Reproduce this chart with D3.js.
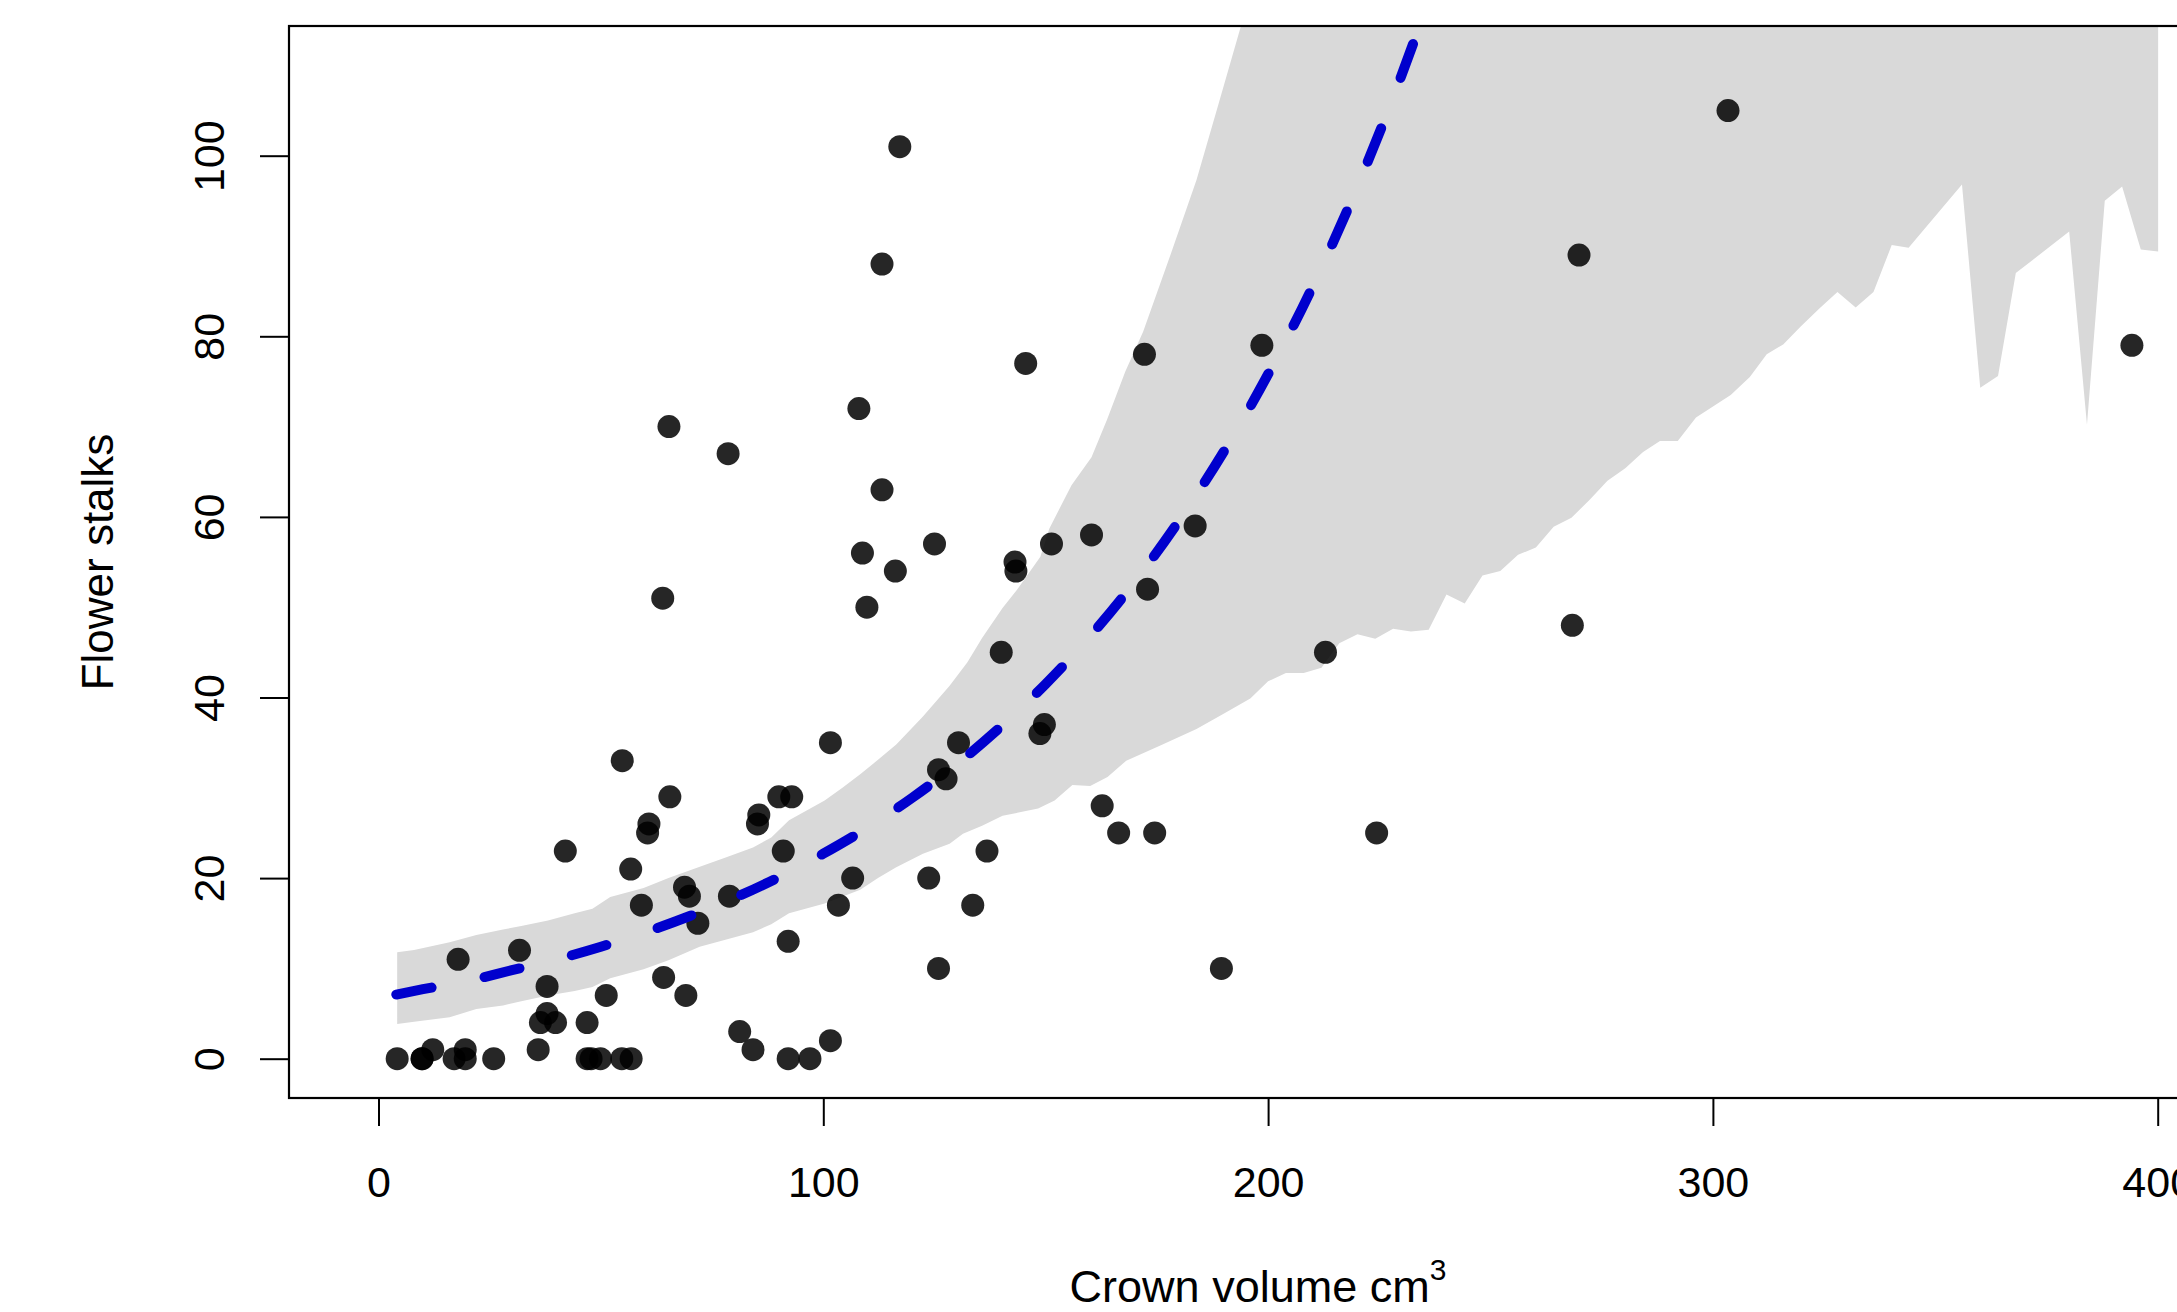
<!DOCTYPE html>
<html>
<head>
<meta charset="utf-8">
<script src="https://cdn.jsdelivr.net/npm/d3@7"></script>
<style>
  html, body { margin: 0; padding: 0; background: #ffffff; }
  svg { display: block; }
  text { font-family: "Liberation Sans", Arial, Helvetica, sans-serif; fill: #000; }
</style>
</head>
<body>
<svg id="chart" width="2177" height="1312"></svg>
<script>
// ---------------- data ----------------
const crownVolume = [4.2, 9.8, 9.8, 12.2, 17.0, 17.9, 19.5, 19.5, 25.9, 31.7, 35.9, 36.4, 37.9, 37.9, 39.8,
  42.0, 46.9, 46.9, 47.8, 49.9, 51.2, 54.7, 54.8, 56.7, 56.8, 59.1, 60.5, 60.8, 63.9, 64.1, 65.3, 65.5,
  68.8, 69.1, 69.9, 71.8, 78.6, 78.9, 81.2, 84.2, 85.2, 85.5, 90.0, 91.0, 92.1, 92.1, 92.9, 97.0, 101.6,
  101.6, 103.4, 106.6, 108.0, 108.8, 109.8, 113.2, 113.2, 116.2, 117.2, 123.7, 125.0, 125.9, 125.9, 127.6,
  130.4, 133.6, 136.8, 140.0, 143.1, 143.3, 145.5, 148.7, 149.7, 151.3, 160.3, 162.7, 166.4, 172.2, 172.9,
  174.5, 183.6, 189.5, 198.6, 212.9, 224.4, 268.4, 269.9, 303.4, 394.2];
const flowerStalks = [0, 0, 0, 1, 0, 11, 1, 0, 0, 12, 1, 4, 5, 8, 4,
  23, 0, 4, 0, 0, 7, 0, 33, 21, 0, 17, 25, 26, 51, 9, 70, 29,
  19, 7, 18, 15, 67, 18, 3, 1, 26, 27, 29, 23, 13, 0, 29, 0, 35,
  2, 17, 20, 72, 56, 50, 88, 63, 54, 101, 20, 57, 32, 10, 31,
  35, 17, 23, 45, 55, 54, 77, 36, 37, 57, 58, 28, 25, 78, 52,
  25, 59, 10, 79, 45, 25, 48, 89, 105, 79];

// fitted curve (dashed blue), read at regular x positions
const fitX = [4, 10, 20, 30, 40, 50, 60, 70, 80, 90, 100, 110, 120, 130, 140, 150, 160, 170, 180, 190, 200, 210, 220, 230, 240];
const fitY = [7.1, 7.7, 8.6, 9.8, 11.0, 12.4, 14.0, 15.8, 17.8, 20.1, 22.7, 25.6, 28.9, 32.6, 36.8, 41.5, 46.8, 52.8, 59.6, 67.2, 75.8, 85.5, 96.5, 108.9, 122.8];

// grey band: upper bound
const bandUpperX = [4.2, 8.0, 16.0, 22.0, 28.0, 32.1, 38.1, 44.1, 48.1, 52.1, 59.6, 65.2, 70.2, 78.2, 84.2, 88.3,
  92.3, 100.3, 104.3, 108.3, 112.3, 116.4, 122.4, 128.4, 132.4, 135.7, 140.3, 143.8, 148.8, 150.8, 155.8, 160.3,
  163.8, 167.9, 171.9, 177.9, 183.9, 188.9, 193.8, 198.0, 400.1];
const bandUpperY = [11.8, 12.05, 12.9, 13.7, 14.3, 14.7, 15.3, 16.1, 16.6, 17.9, 18.9, 20.0, 20.9, 22.3, 23.4, 24.5,
  26.4, 28.6, 30.0, 31.5, 33.1, 34.8, 37.9, 41.3, 43.9, 46.6, 49.9, 52.1, 55.6, 58.7, 63.5, 66.6,
  70.8, 76.1, 80.5, 88.8, 97.3, 105.8, 114.2, 125, 125];
// grey band: lower bound
const bandLowerX = [4.2, 8.0, 16.0, 22.0, 28.0, 32.1, 38.1, 44.1, 48.1, 52.1, 59.6, 65.2, 72.2, 78.2, 84.2, 88.3,
  92.3, 100.3, 108.3, 112.3, 116.4, 122.4, 128.4, 131.4, 135.7, 140.3, 148.3, 152.0, 156.0, 160.0, 163.9, 168.1,
  175.9, 183.9, 190.0, 196.0, 200.0, 204.0, 208.0, 212.0, 216.0, 220.1, 224.1, 228.1, 232.1, 236.1, 240.1, 244.2,
  248.2, 252.2, 256.2, 260.2, 264.2, 268.2, 272.3, 276.3, 280.3, 284.3, 288.1, 292.1, 296.2, 304.0, 308.3, 312.1,
  315.8, 319.8, 324.0, 328.0, 332.1, 336.1, 340.2, 344.0, 356.0, 360.1, 364.1, 368.1, 380.1, 384.1, 388.1, 392.0,
  396.2, 400.1];
const bandLowerY = [3.85, 4.1, 4.6, 5.5, 5.9, 6.35, 7.0, 7.5, 7.95, 8.9, 9.9, 10.9, 12.4, 13.2, 14.0, 14.9,
  16.1, 17.2, 18.7, 20.0, 21.2, 22.7, 23.8, 24.9, 25.8, 26.9, 27.7, 28.6, 30.3, 30.2, 31.2, 33.0,
  34.7, 36.5, 38.2, 39.9, 41.8, 42.7, 42.7, 43.3, 46.0, 47.0, 46.5, 47.6, 47.3, 47.5, 51.4, 50.4,
  53.5, 54.0, 55.8, 56.6, 58.9, 59.9, 61.9, 64.0, 65.4, 67.2, 68.4, 68.4, 71.0, 73.5, 75.5, 78.0,
  79.1, 81.1, 83.1, 84.9, 83.2, 84.9, 90.1, 89.8, 96.8, 74.3, 75.6, 87.0, 91.6, 70.2, 95.0, 96.6,
  89.6, 89.4];

const xTicks = [0, 100, 200, 300, 400];
const yTicks = [0, 20, 40, 60, 80, 100];

// ---------------- layout ----------------
const svg = d3.select("#chart");
const plot = { left: 289, top: 26, right: 2228, bottom: 1098 };

const x = d3.scaleLinear().domain([0, 400]).range([378.5, 2157.7]);
const y = d3.scaleLinear().domain([0, 100]).range([1058.7, 155.7]);

svg.append("defs").append("clipPath").attr("id", "clip")
  .append("rect")
  .attr("x", plot.left).attr("y", plot.top)
  .attr("width", plot.right - plot.left).attr("height", plot.bottom - plot.top);

const g = svg.append("g").attr("clip-path", "url(#clip)");

// band polygon
const upperPts = bandUpperX.map((d, i) => [x(d), y(bandUpperY[i])]);
const lowerPts = bandLowerX.map((d, i) => [x(d), y(bandLowerY[i])]).reverse();
g.append("path")
  .attr("d", d3.line()(upperPts.concat(lowerPts)) + "Z")
  .attr("fill", "#d9d9d9")
  .attr("stroke", "none");

// points
g.selectAll("circle.pt")
  .data(crownVolume.map((d, i) => [d, flowerStalks[i]]))
  .join("circle")
  .attr("class", "pt")
  .attr("cx", d => x(d[0]))
  .attr("cy", d => y(d[1]))
  .attr("r", 11.5)
  .attr("fill", "rgba(0,0,0,0.85)");

// fitted dashed line
g.append("path")
  .datum(fitX.map((d, i) => [d, fitY[i]]))
  .attr("d", d3.line().x(d => x(d[0])).y(d => y(d[1])).curve(d3.curveMonotoneX))
  .attr("fill", "none")
  .attr("stroke", "#0000cd")
  .attr("stroke-width", 10)
  .attr("stroke-linecap", "round")
  .attr("stroke-dasharray", "36,54");

// frame
svg.append("rect")
  .attr("x", plot.left).attr("y", plot.top)
  .attr("width", plot.right - plot.left).attr("height", plot.bottom - plot.top)
  .attr("fill", "none").attr("stroke", "#000").attr("stroke-width", 2.2);

// x axis
const xAxis = d3.axisBottom(x).tickValues(xTicks).tickSize(28).tickPadding(40).tickFormat(d3.format("d"));
const gx = svg.append("g").attr("transform", `translate(0,${plot.bottom})`).call(xAxis);
gx.select(".domain").attr("stroke", "#000").attr("stroke-width", 2).attr("d", `M${x(0)},0H${x(400)}`);
gx.selectAll(".tick line").attr("stroke", "#000").attr("stroke-width", 2);
gx.selectAll(".tick text").attr("font-size", 43).attr("dy", 0).attr("y", 99)
  .style("font-family", '"Liberation Sans", Arial, sans-serif');

// y axis
const yAxis = d3.axisLeft(y).tickValues(yTicks).tickSize(29).tickFormat(d3.format("d"));
const gy = svg.append("g").attr("transform", `translate(${plot.left},0)`).call(yAxis);
gy.select(".domain").attr("stroke", "#000").attr("stroke-width", 2).attr("d", `M0,${y(0)}V${y(100)}`);
gy.selectAll(".tick line").attr("stroke", "#000").attr("stroke-width", 2);
gy.selectAll(".tick text")
  .attr("font-size", 43)
  .attr("x", null).attr("dy", null)
  .attr("text-anchor", "middle")
  .attr("transform", "translate(-65,0) rotate(-90)")
  .style("font-family", '"Liberation Sans", Arial, sans-serif');

// axis titles
const xt = svg.append("text")
  .attr("x", 1258).attr("y", 1302)
  .attr("text-anchor", "middle")
  .attr("font-size", 45);
xt.append("tspan").text("Crown volume cm");
xt.append("tspan").text("3").attr("font-size", 30).attr("dy", -22);

svg.append("text")
  .attr("transform", "translate(113,562) rotate(-90)")
  .attr("text-anchor", "middle")
  .attr("font-size", 44)
  .text("Flower stalks");
</script>
</body>
</html>
